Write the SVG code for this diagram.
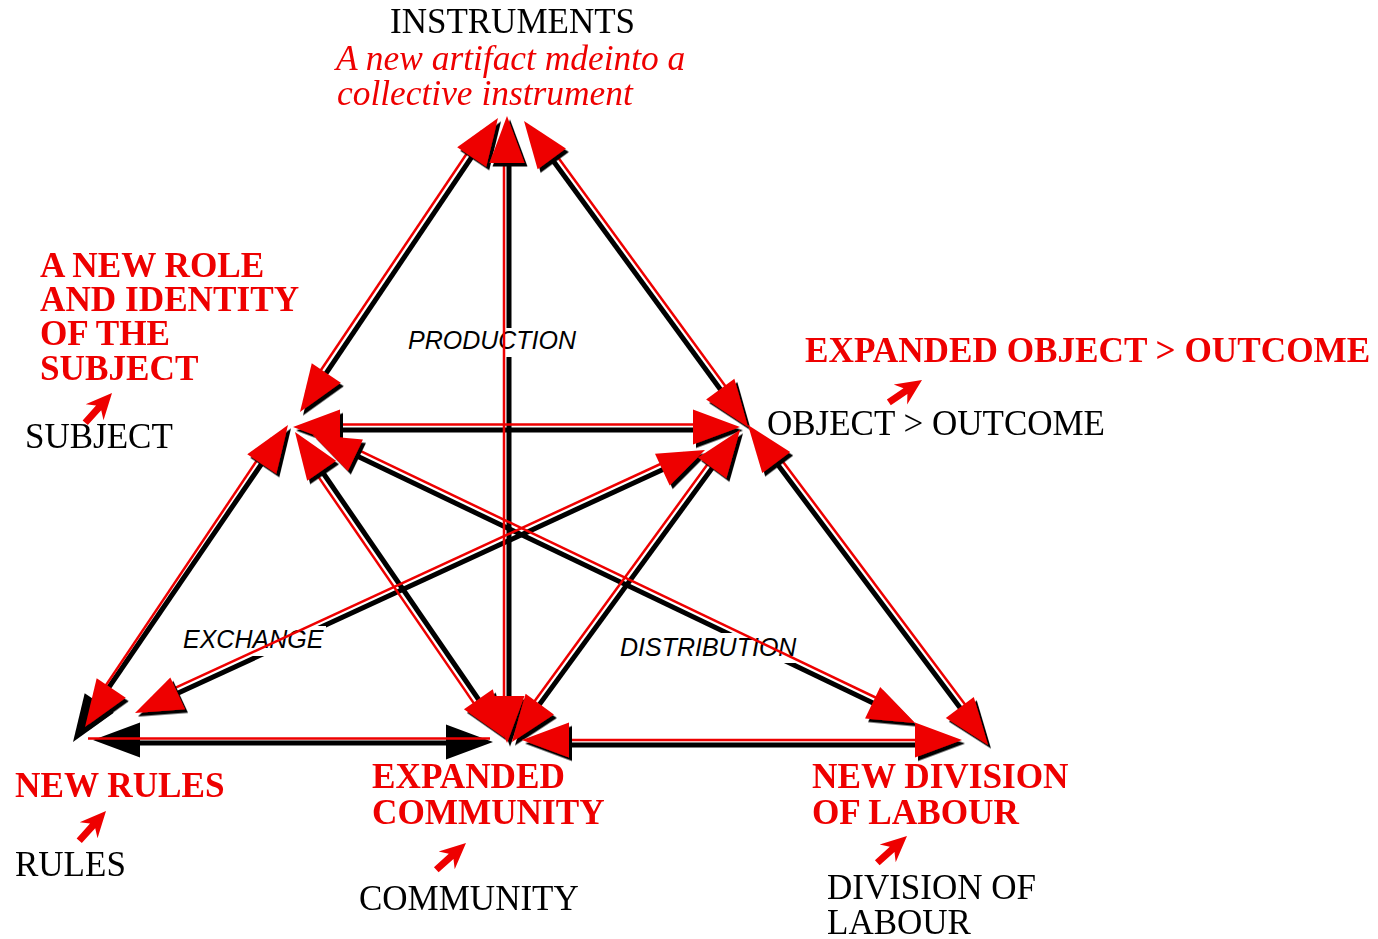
<svg xmlns="http://www.w3.org/2000/svg" xmlns:xlink="http://www.w3.org/1999/xlink" width="1378" height="939" viewBox="0 0 1378 939">
<style>
.blk{stroke:#000;stroke-width:5;fill:none}
.red{stroke:#ee0000;stroke-width:2.5;fill:none}
.serif{font-family:"Liberation Serif","Times New Roman",serif;font-size:35px;fill:#000}
.bold{font-family:"Liberation Serif","Times New Roman",serif;font-size:35.2px;font-weight:bold;fill:#ee0000}
.ital{font-family:"Liberation Serif","Times New Roman",serif;font-size:35.4px;font-style:italic;fill:#ee0000}
.lab{font-family:"Liberation Sans",Arial,sans-serif;font-size:25px;font-style:italic;fill:#000}
.ahr{fill:#ee0000}
.ahb{fill:#000}
.sm{fill:#ee0000}
</style>
<defs>
<path id="ah" d="M0,0 L-47,-17.5 L-47,17.5 Z"/>
<path id="sa" d="M0,0 L-26,-12 L-20,-3.5 L-40,-3.5 L-40,3.5 L-20,3.5 L-26,12 Z"/>
<filter id="shadow" x="-5%" y="-5%" width="110%" height="110%">
<feDropShadow dx="3" dy="3.5" stdDeviation="0" flood-color="#000" flood-opacity="1"/>
</filter>
</defs>
<rect width="1378" height="939" fill="#fff"/>

<g id="connectors">
<g id="black-lines">
<line class="blk" x1="486.8" y1="134.6" x2="311.2" y2="395.4"/>
<line class="blk" x1="535.8" y1="137.1" x2="736.2" y2="410.9"/>
<line class="blk" x1="509" y1="136" x2="509" y2="723"/>
<line class="blk" x1="313" y1="430" x2="720" y2="430"/>
<line class="blk" x1="276.8" y1="441.6" x2="92" y2="712"/>
<line class="blk" x1="306.3" y1="448.5" x2="493.7" y2="721.5"/>
<line class="blk" x1="331" y1="443.6" x2="897" y2="714.4"/>
<line class="blk" x1="686.8" y1="458.4" x2="153.2" y2="704.6"/>
<line class="blk" x1="728.2" y1="446.1" x2="523.8" y2="725.9"/>
<line class="blk" x1="760" y1="441" x2="976" y2="729"/>
<line class="blk" x1="113" y1="743" x2="473" y2="743"/>
<line class="blk" x1="542" y1="745" x2="942" y2="745"/>
</g>
<g id="edge-labels">
<rect x="405" y="328" width="176" height="29" fill="#fff"/>
<text class="lab" x="408" y="349">PRODUCTION</text>
<rect x="180" y="626" width="146" height="30" fill="#fff"/>
<text class="lab" x="183" y="648">EXCHANGE</text>
<rect x="617" y="633" width="184" height="30" fill="#fff"/>
<text class="lab" x="620" y="656">DISTRIBUTION</text>
</g>
<g id="black-heads">
<use xlink:href="#ah" class="ahb" transform="translate(73,742) rotate(123.9)"/>
<use xlink:href="#ah" class="ahb" transform="translate(93,740) rotate(180)"/>
<use xlink:href="#ah" class="ahb" transform="translate(493,742) rotate(0)"/>
</g>
<g id="red-lines">
<line class="red" x1="481.8" y1="131.2" x2="306.2" y2="392"/>
<line class="red" x1="540.6" y1="133.6" x2="741" y2="407.4"/>
<line class="red" x1="504" y1="136" x2="504" y2="723"/>
<line class="red" x1="313" y1="424.5" x2="720" y2="424.5"/>
<line class="red" x1="271.8" y1="438.3" x2="91.2" y2="707.1"/>
<line class="red" x1="301.3" y1="451.9" x2="488.7" y2="724.9"/>
<line class="red" x1="333.6" y1="438.2" x2="899.6" y2="709"/>
<line class="red" x1="684.3" y1="453" x2="150.7" y2="699.2"/>
<line class="red" x1="723.4" y1="442.6" x2="519" y2="722.4"/>
<line class="red" x1="764.8" y1="437.4" x2="980.8" y2="725.4"/>
<line class="red" x1="88" y1="738.5" x2="490" y2="738.5"/>
<line class="red" x1="542" y1="740" x2="942" y2="740"/>
</g>
<g id="red-heads" filter="url(#shadow)">
<use xlink:href="#ah" class="ahr" transform="translate(498,118) rotate(-56)"/>
<use xlink:href="#ah" class="ahr" transform="translate(300,412) rotate(124)"/>
<use xlink:href="#ah" class="ahr" transform="translate(507,116) rotate(-90)"/>
<use xlink:href="#ah" class="ahr" transform="translate(524,121) rotate(-126.2)"/>
<use xlink:href="#ah" class="ahr" transform="translate(748,427) rotate(53.8)"/>
<use xlink:href="#ah" class="ahr" transform="translate(507,743) rotate(90)"/>
<use xlink:href="#ah" class="ahr" transform="translate(293,427) rotate(180)"/>
<use xlink:href="#ah" class="ahr" transform="translate(740,427) rotate(0)"/>
<use xlink:href="#ah" class="ahr" transform="translate(288,425) rotate(-56.1)"/>
<use xlink:href="#ah" class="ahr" transform="translate(85,727) rotate(123.9)"/>
<use xlink:href="#ah" class="ahr" transform="translate(295,432) rotate(-124.5)"/>
<use xlink:href="#ah" class="ahr" transform="translate(505,738) rotate(55.5)"/>
<use xlink:href="#ah" class="ahr" transform="translate(313,435) rotate(-154.4)"/>
<use xlink:href="#ah" class="ahr" transform="translate(915,723) rotate(25.6)"/>
<use xlink:href="#ah" class="ahr" transform="translate(705,450) rotate(-24.8)"/>
<use xlink:href="#ah" class="ahr" transform="translate(135,713) rotate(155.2)"/>
<use xlink:href="#ah" class="ahr" transform="translate(740,430) rotate(-53.8)"/>
<use xlink:href="#ah" class="ahr" transform="translate(512,742) rotate(126.2)"/>
<use xlink:href="#ah" class="ahr" transform="translate(748,425) rotate(-126.9)"/>
<use xlink:href="#ah" class="ahr" transform="translate(988,745) rotate(53.1)"/>
<use xlink:href="#ah" class="ahr" transform="translate(522,740) rotate(180)"/>
<use xlink:href="#ah" class="ahr" transform="translate(962,740) rotate(0)"/>
</g>
</g>

<g id="node-instruments">
<text class="serif" x="390" y="33">INSTRUMENTS</text>
<text class="ital" x="336" y="70">A new artifact mdeinto a</text>
<text class="ital" x="337" y="105">collective instrument</text>
</g>
<g id="node-subject">
<text class="bold" x="40" y="277">A NEW ROLE</text>
<text class="bold" x="40" y="311">AND IDENTITY</text>
<text class="bold" x="40" y="345">OF THE</text>
<text class="bold" x="40" y="380">SUBJECT</text>
<use xlink:href="#sa" class="sm" transform="translate(112,393) rotate(-48)"/>
<text class="serif" x="25" y="448">SUBJECT</text>
</g>
<g id="node-object">
<text class="bold" x="805" y="362">EXPANDED OBJECT &gt; OUTCOME</text>
<use xlink:href="#sa" class="sm" transform="translate(922,380) rotate(-34)"/>
<text class="serif" x="767" y="435">OBJECT &gt; OUTCOME</text>
</g>
<g id="node-rules">
<text class="bold" x="15" y="797">NEW RULES</text>
<use xlink:href="#sa" class="sm" transform="translate(106,811) rotate(-48)"/>
<text class="serif" x="15" y="876">RULES</text>
</g>
<g id="node-community">
<text class="bold" x="372" y="788">EXPANDED</text>
<text class="bold" x="372" y="824">COMMUNITY</text>
<use xlink:href="#sa" class="sm" transform="translate(466,843) rotate(-42)"/>
<text class="serif" x="359" y="910">COMMUNITY</text>
</g>
<g id="node-division">
<text class="bold" x="812" y="788">NEW DIVISION</text>
<text class="bold" x="812" y="824">OF LABOUR</text>
<use xlink:href="#sa" class="sm" transform="translate(907,836) rotate(-42)"/>
<text class="serif" x="827" y="899">DIVISION OF</text>
<text class="serif" x="827" y="934">LABOUR</text>
</g>
</svg>
